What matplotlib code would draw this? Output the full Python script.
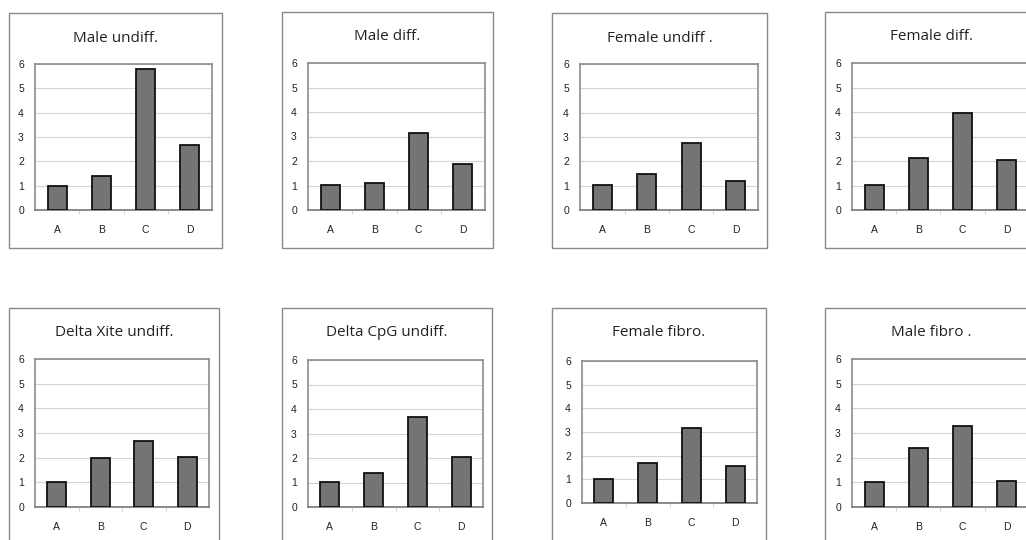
import numpy as np
import matplotlib
matplotlib.use("Agg")
from matplotlib import pyplot as plt
from matplotlib.patches import Rectangle

categories = ['A', 'B', 'C', 'D']

titles = ['Male undiff.', 'Male diff.', 'Female undiff .', 'Female diff.',
          'Delta Xite undiff.', 'Delta CpG undiff.', 'Female fibro.', 'Male fibro .']

male_undiff = [1.0, 1.38, 5.8, 2.66]
male_diff = [1.02, 1.11, 3.13, 1.88]
female_undiff = [1.02, 1.46, 2.77, 1.2]
female_diff = [1.02, 2.11, 3.97, 2.04]
xite_undiff = [1.02, 1.97, 2.68, 2.04]
cpg_undiff = [1.02, 1.38, 3.66, 2.04]
female_fibro = [1.0, 1.69, 3.18, 1.56]
male_fibro = [1.02, 2.4, 3.29, 1.06]

series = [male_undiff, male_diff, female_undiff, female_diff,
          xite_undiff, cpg_undiff, female_fibro, male_fibro]

W, H = 1026, 540
fig = plt.figure(figsize=(W / 100, H / 100), dpi=100)

# pixel boxes (left, top, right, bottom), image coords
inner = [(35, 64, 212, 210), (308, 63, 485, 210), (580, 64, 758, 210), (852, 63, 1029, 210),
         (35, 359, 209, 507), (308, 360, 483, 507), (582, 361, 757, 503), (852, 359, 1029, 507)]
outer = [(9, 13, 222, 248), (282, 12, 493, 248), (552, 13, 767, 248), (825, 12, 1037, 248),
         (9, 308, 219, 548), (282, 308, 492, 548), (552, 308, 766, 548), (825, 308, 1037, 548)]

def frac(box):
    l, t, r, b = box
    return [l / W, 1 - b / H, (r - l) / W, (b - t) / H]

for i in range(8):
    l, t, r, b = outer[i]
    fig.patches.append(Rectangle((l / W, 1 - b / H), (r - l) / W, (b - t) / H,
                                 transform=fig.transFigure, fill=False,
                                 edgecolor='#8a8a8a', linewidth=1.0))
    fig.text((l + r) / 2 / W, 1 - (t + 25) / H, titles[i], ha='center', va='center',
             fontsize=11, family='Open Sans', color='#222222')

    ax = fig.add_axes(frac(inner[i]))
    x = np.arange(len(categories))
    ax.bar(x, series[i], width=0.43, color='#747474', edgecolor='#111111', linewidth=1.3, zorder=3)
    ax.set_xlim(-0.5, 3.5)
    ax.set_ylim(0, 6)
    ax.set_yticks(range(7))
    ax.set_xticks(x)
    ax.set_xticklabels(categories)
    ax.set_xticks([0.5, 1.5, 2.5], minor=True)
    ax.grid(axis='y', color='#d4d4d4', linewidth=0.8, zorder=0)
    for s in ['top', 'left', 'right']:
        ax.spines[s].set_color('#8c8c8c')
        ax.spines[s].set_linewidth(1.2)
    ax.spines['bottom'].set_color('#777777')
    ax.spines['bottom'].set_linewidth(1.2)
    ax.tick_params(axis='both', which='major', length=0, labelsize=7.5, colors='#222222',
                   labelfontfamily='Liberation Sans')
    ax.tick_params(axis='y', pad=8)
    ax.tick_params(axis='x', pad=11)
    ax.tick_params(axis='x', which='minor', length=3, color='#cccccc')

fig.savefig('out.png', dpi=100, facecolor='white')
